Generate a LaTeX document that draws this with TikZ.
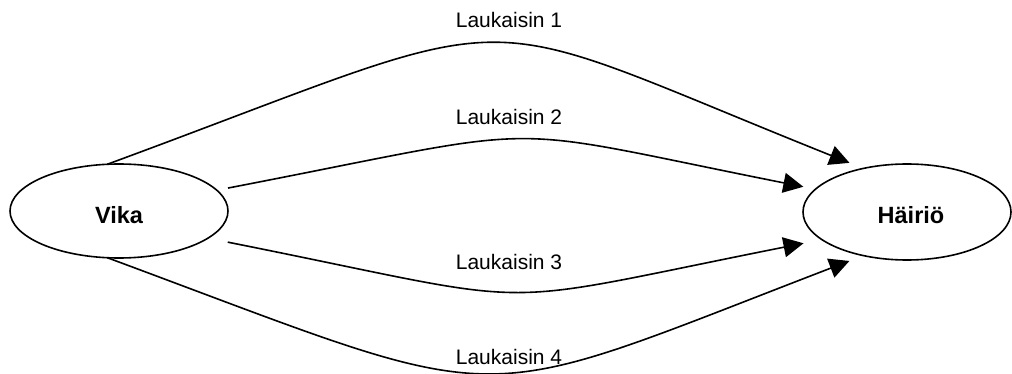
\documentclass[tikz,border=0pt]{standalone}
\usepackage{fontspec}
\setmainfont{Liberation Sans}
\usetikzlibrary{shapes.geometric,arrows.meta}
\begin{document}
\begin{tikzpicture}[x=1pt,y=-1pt,
  state/.style={ellipse, draw, line width=1.6pt, inner sep=0pt, outer sep=0pt,
    font=\fontsize{23.5}{28}\selectfont\bfseries, text depth=0pt},
  trig/.style={font=\fontsize{21}{25}\selectfont, inner sep=0pt},
  link/.style={line width=1.6pt, -{Triangle[length=20pt,width=20pt]}}]
\useasboundingbox (0,0) rectangle (1012,374);
\node[state, minimum width=218pt, minimum height=94pt, text height=25.8pt] (vika) at (119,211) {Vika};
\node[state, minimum width=208pt, minimum height=96pt, text height=22.8pt] (hairio) at (907,212) {\hspace*{8pt}Häiriö};
% trigger paths from the fault to the disturbance
\draw[link, shorten >=15pt] (vika.104) .. controls (545,3) and (450,3) .. (hairio.135);
\draw[link, shorten <=11.5pt, shorten >=12.4pt] (vika.12) .. controls (565,123) and (483,123) .. (hairio.166);
\draw[link, shorten <=20.2pt, shorten >=18.8pt] (vika.-17) .. controls (558,308) and (473,309) .. (hairio.198);
\draw[link, shorten >=15pt] (vika.256) .. controls (521,411) and (459,411) .. (hairio.225);
\node[trig] (l1) at (509,20) {Laukaisin 1};
\node[trig] (l2) at (509,117) {Laukaisin 2};
\node[trig] (l3) at (509,262) {Laukaisin 3};
\node[trig] (l4) at (509,357) {Laukaisin 4};
\end{tikzpicture}
\end{document}
